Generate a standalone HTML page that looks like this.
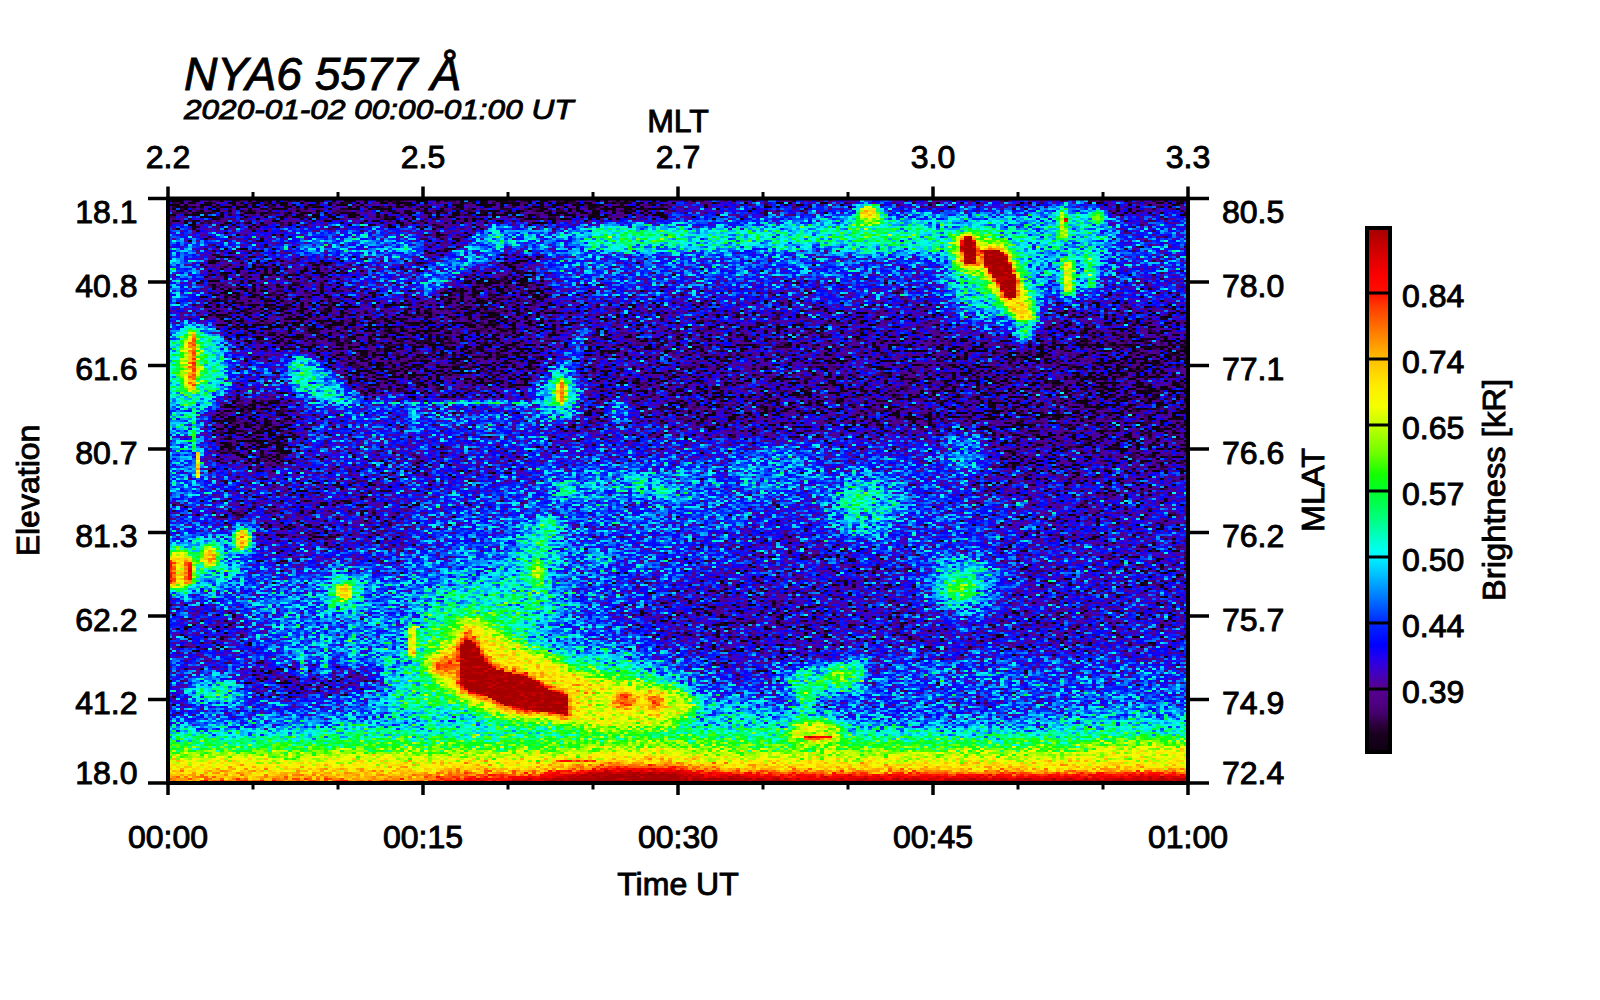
<!DOCTYPE html>
<html><head><meta charset="utf-8"><title>NYA6 5577 keogram</title>
<style>
html,body{margin:0;padding:0;background:#fff;}
body{width:1600px;height:1000px;overflow:hidden;font-family:"Liberation Sans",sans-serif;}
svg{display:block;}
text{font-family:"Liberation Sans",sans-serif;fill:#000;stroke:#000;stroke-width:0.9px;}
</style></head><body>
<svg width="1600" height="1000" viewBox="0 0 1600 1000">
<defs>
<filter id="b2" x="-50%" y="-50%" width="200%" height="200%" color-interpolation-filters="sRGB"><feGaussianBlur stdDeviation="2"/></filter>
<filter id="b4" x="-50%" y="-50%" width="200%" height="200%" color-interpolation-filters="sRGB"><feGaussianBlur stdDeviation="4"/></filter>
<filter id="b7" x="-50%" y="-50%" width="200%" height="200%" color-interpolation-filters="sRGB"><feGaussianBlur stdDeviation="7"/></filter>
<filter id="b12" x="-50%" y="-50%" width="200%" height="200%" color-interpolation-filters="sRGB"><feGaussianBlur stdDeviation="12"/></filter>
<filter id="b20" x="-50%" y="-50%" width="200%" height="200%" color-interpolation-filters="sRGB"><feGaussianBlur stdDeviation="20"/></filter>
<filter id="b35" x="-50%" y="-50%" width="200%" height="200%" color-interpolation-filters="sRGB"><feGaussianBlur stdDeviation="35"/></filter>
<filter id="bx" filterUnits="userSpaceOnUse" x="100" y="680" width="1200" height="150" color-interpolation-filters="sRGB"><feGaussianBlur stdDeviation="14 0"/></filter>
<filter id="heat" filterUnits="userSpaceOnUse" x="168" y="198" width="1020" height="585" color-interpolation-filters="sRGB">
 <feTurbulence type="fractalNoise" baseFrequency="0.83 0.91" numOctaves="2" seed="7" result="tn"/>
 <feColorMatrix in="tn" type="matrix" values="0.9 0 0 0 0  0.9 0 0 0 0  0.9 0 0 0 0  0 0 0 0 1" result="n"/>
 <feComposite in="SourceGraphic" in2="n" operator="arithmetic" k1="-0.8" k2="1.3600" k3="1" k4="-0.450" result="sum"/>
 <feFlood x="170" y="199" width="1" height="1" flood-color="#000"/>
 <feOffset dx="0" dy="0" x="168" y="198" width="4" height="2"/>
 <feTile result="grid"/>
 <feComposite in="sum" in2="grid" operator="in"/>
 <feConvolveMatrix order="4 2" kernelMatrix="1 1 1 1 1 1 1 1" divisor="1" targetX="1" targetY="0" edgeMode="none" preserveAlpha="false" result="pix"/>
 <feComponentTransfer>
  <feFuncR type="table" tableValues="0.055 0.077 0.098 0.152 0.217 0.276 0.311 0.321 0.329 0.284 0.238 0.172 0.094 0.005 0.000 0.000 0.000 0.000 0.000 0.000 0.000 0.000 0.000 0.000 0.000 0.000 0.000 0.000 0.000 0.000 0.000 0.000 0.000 0.041 0.089 0.227 0.365 0.481 0.575 0.670 0.765 0.852 0.940 0.972 0.988 1.000 1.000 1.000 1.000 1.000 1.000 1.000 1.000 1.000 1.000 1.000 1.000 0.991 0.982 0.940 0.886 0.831 0.770 0.708 0.647"/>
  <feFuncG type="table" tableValues="0.000 0.000 0.000 0.000 0.000 0.000 0.000 0.000 0.000 0.000 0.000 0.000 0.000 0.000 0.057 0.117 0.176 0.279 0.381 0.483 0.585 0.687 0.785 0.877 0.961 1.000 1.000 1.000 1.000 1.000 1.000 1.000 1.000 1.000 1.000 1.000 1.000 1.000 1.000 1.000 1.000 1.000 1.000 0.977 0.946 0.911 0.855 0.800 0.745 0.665 0.586 0.506 0.426 0.347 0.267 0.169 0.059 0.033 0.006 0.000 0.000 0.000 0.000 0.000 0.000"/>
  <feFuncB type="table" tableValues="0.063 0.092 0.120 0.204 0.325 0.442 0.512 0.544 0.573 0.683 0.792 0.885 0.954 0.998 1.000 1.000 1.000 1.000 1.000 1.000 1.000 1.000 1.000 1.000 0.980 0.906 0.794 0.675 0.553 0.444 0.342 0.248 0.157 0.075 0.000 0.000 0.000 0.000 0.000 0.000 0.000 0.000 0.000 0.000 0.000 0.000 0.000 0.000 0.000 0.000 0.000 0.000 0.000 0.000 0.000 0.000 0.000 0.000 0.000 0.000 0.000 0.000 0.000 0.000 0.000"/>
  <feFuncA type="linear" slope="0" intercept="1"/>
 </feComponentTransfer>
</filter>
<linearGradient id="bg1" x1="0" y1="690" x2="0" y2="820" gradientUnits="userSpaceOnUse">
<stop offset="0" stop-color="#444" stop-opacity="0"/>
<stop offset="0.0769" stop-color="#404040" stop-opacity="0.00"/>
<stop offset="0.1538" stop-color="#454545" stop-opacity="0.30"/>
<stop offset="0.2000" stop-color="#4c4c4c" stop-opacity="0.50"/>
<stop offset="0.2769" stop-color="#5c5c5c" stop-opacity="0.70"/>
<stop offset="0.3308" stop-color="#6b6b6b" stop-opacity="0.80"/>
<stop offset="0.4231" stop-color="#878787" stop-opacity="0.85"/>
<stop offset="0.4923" stop-color="#9e9e9e" stop-opacity="0.90"/>
<stop offset="0.5538" stop-color="#adadad" stop-opacity="0.95"/>
<stop offset="0.6077" stop-color="#bbbbbb" stop-opacity="1.00"/>
<stop offset="0.6346" stop-color="#c9c9c9" stop-opacity="1.00"/>
<stop offset="0.6577" stop-color="#e0e0e0" stop-opacity="1.00"/>
<stop offset="0.6846" stop-color="#f2f2f2" stop-opacity="1.00"/>
<stop offset="0.7077" stop-color="#ffffff" stop-opacity="1.00"/>
<stop offset="1.0000" stop-color="#ffffff" stop-opacity="1.00"/>
</linearGradient>
<linearGradient id="bg2" x1="0" y1="690" x2="0" y2="820" gradientUnits="userSpaceOnUse">
<stop offset="0" stop-color="#444" stop-opacity="0"/>
<stop offset="0.0769" stop-color="#404040" stop-opacity="0.00"/>
<stop offset="0.1538" stop-color="#454545" stop-opacity="0.30"/>
<stop offset="0.2000" stop-color="#4c4c4c" stop-opacity="0.50"/>
<stop offset="0.2769" stop-color="#5c5c5c" stop-opacity="0.70"/>
<stop offset="0.3308" stop-color="#6b6b6b" stop-opacity="0.80"/>
<stop offset="0.4231" stop-color="#878787" stop-opacity="0.85"/>
<stop offset="0.4923" stop-color="#9e9e9e" stop-opacity="0.90"/>
<stop offset="0.5538" stop-color="#adadad" stop-opacity="0.95"/>
<stop offset="0.6000" stop-color="#b2b2b2" stop-opacity="1.00"/>
<stop offset="0.6462" stop-color="#bbbbbb" stop-opacity="1.00"/>
<stop offset="0.6923" stop-color="#c9c9c9" stop-opacity="1.00"/>
<stop offset="0.7154" stop-color="#d4d4d4" stop-opacity="1.00"/>
<stop offset="1.0000" stop-color="#e0e0e0" stop-opacity="1.00"/>
</linearGradient>
<linearGradient id="bg3" x1="0" y1="690" x2="0" y2="820" gradientUnits="userSpaceOnUse">
<stop offset="0" stop-color="#444" stop-opacity="0"/>
<stop offset="0.0769" stop-color="#404040" stop-opacity="0.00"/>
<stop offset="0.1538" stop-color="#454545" stop-opacity="0.30"/>
<stop offset="0.2000" stop-color="#4c4c4c" stop-opacity="0.50"/>
<stop offset="0.2769" stop-color="#5c5c5c" stop-opacity="0.70"/>
<stop offset="0.3308" stop-color="#6b6b6b" stop-opacity="0.80"/>
<stop offset="0.4231" stop-color="#878787" stop-opacity="0.85"/>
<stop offset="0.4923" stop-color="#9e9e9e" stop-opacity="0.90"/>
<stop offset="0.5538" stop-color="#adadad" stop-opacity="0.95"/>
<stop offset="0.6000" stop-color="#b8b8b8" stop-opacity="1.00"/>
<stop offset="0.6385" stop-color="#c7c7c7" stop-opacity="1.00"/>
<stop offset="0.6769" stop-color="#dbdbdb" stop-opacity="1.00"/>
<stop offset="0.7077" stop-color="#ededed" stop-opacity="1.00"/>
<stop offset="1.0000" stop-color="#f2f2f2" stop-opacity="1.00"/>
</linearGradient>
<linearGradient id="cb" x1="0" y1="0" x2="0" y2="1"><stop offset="0.0000" stop-color="rgb(165,0,0)"/><stop offset="0.0500" stop-color="rgb(215,0,0)"/><stop offset="0.0900" stop-color="rgb(250,0,0)"/><stop offset="0.1250" stop-color="rgb(255,15,0)"/><stop offset="0.1500" stop-color="rgb(255,60,0)"/><stop offset="0.2000" stop-color="rgb(255,125,0)"/><stop offset="0.2500" stop-color="rgb(255,190,0)"/><stop offset="0.3000" stop-color="rgb(255,235,0)"/><stop offset="0.3400" stop-color="rgb(245,255,0)"/><stop offset="0.3750" stop-color="rgb(195,255,0)"/><stop offset="0.4300" stop-color="rgb(110,255,0)"/><stop offset="0.4700" stop-color="rgb(20,255,0)"/><stop offset="0.5000" stop-color="rgb(0,255,40)"/><stop offset="0.5270" stop-color="rgb(0,255,80)"/><stop offset="0.5570" stop-color="rgb(0,255,130)"/><stop offset="0.5870" stop-color="rgb(0,255,190)"/><stop offset="0.6170" stop-color="rgb(0,255,245)"/><stop offset="0.6330" stop-color="rgb(0,235,255)"/><stop offset="0.6630" stop-color="rgb(0,190,255)"/><stop offset="0.6930" stop-color="rgb(0,140,255)"/><stop offset="0.7230" stop-color="rgb(0,90,255)"/><stop offset="0.7500" stop-color="rgb(0,45,255)"/><stop offset="0.7960" stop-color="rgb(0,0,255)"/><stop offset="0.8200" stop-color="rgb(35,0,238)"/><stop offset="0.8450" stop-color="rgb(62,0,200)"/><stop offset="0.8750" stop-color="rgb(84,0,146)"/><stop offset="0.9050" stop-color="rgb(80,0,132)"/><stop offset="0.9260" stop-color="rgb(68,0,108)"/><stop offset="0.9480" stop-color="rgb(44,0,60)"/><stop offset="0.9660" stop-color="rgb(26,0,32)"/><stop offset="1.0000" stop-color="rgb(14,0,16)"/></linearGradient>
<clipPath id="pc"><rect x="168" y="198" width="1020" height="585"/></clipPath>
</defs>
<rect width="1600" height="1000" fill="#fff"/>
<g clip-path="url(#pc)">
<g filter="url(#heat)">
<rect x="150" y="180" width="1060" height="620" fill="#333333"/>
<g filter="url(#b35)"><ellipse cx="480" cy="625" rx="330" ry="95" fill="#444444"/></g>
<g filter="url(#b20)"><ellipse cx="370" cy="620" rx="110" ry="50" fill="#4a4a4a"/></g>
<g filter="url(#b35)"><ellipse cx="620" cy="515" rx="150" ry="65" fill="#414141"/></g>
<g filter="url(#b35)"><ellipse cx="800" cy="490" rx="130" ry="55" fill="#424242"/></g>
<g filter="url(#b35)"><ellipse cx="950" cy="540" rx="90" ry="80" fill="#3c3c3c"/></g>
<g filter="url(#b20)"><ellipse cx="470" cy="590" rx="90" ry="50" fill="#474747"/></g>
<g filter="url(#b20)"><ellipse cx="340" cy="640" rx="70" ry="40" fill="#4a4a4a"/></g>
<rect x="150" y="176" width="520" height="46" fill="#0a0a0a" filter="url(#b7)"/>
<rect x="660" y="176" width="450" height="34" fill="#262626" filter="url(#b7)"/>
<rect x="370" y="180" width="280" height="44" fill="#0b0b0b" filter="url(#b7)"/>
<rect x="1100" y="185" width="110" height="30" fill="#171717" filter="url(#b7)"/>
<rect x="185" y="205" width="300" height="135" fill="#1b1b1b" filter="url(#b20)"/>
<polygon points="205,280 330,292 440,290 545,272 550,395 352,400 322,352 205,338" fill="#161616" filter="url(#b12)"/>
<polygon points="250,305 520,295 535,385 370,385 340,345 250,328" fill="#131313" filter="url(#b12)" opacity="0.8"/>
<rect x="505" y="256" width="48" height="70" fill="#171717" filter="url(#b7)"/>
<rect x="540" y="310" width="670" height="125" fill="#1d1d1d" filter="url(#b20)"/>
<rect x="1085" y="330" width="130" height="150" fill="#0f0f0f" filter="url(#b20)"/>
<rect x="930" y="345" width="150" height="45" fill="#171717" filter="url(#b12)"/>
<rect x="990" y="395" width="210" height="95" fill="#161616" filter="url(#b20)"/>
<rect x="690" y="392" width="160" height="35" fill="#1a1a1a" filter="url(#b12)"/>
<rect x="848" y="392" width="150" height="30" fill="#1c1c1c" filter="url(#b12)"/>
<polygon points="210,396 292,396 300,440 290,470 210,462" fill="#0f0f0f" filter="url(#b7)"/>
<rect x="230" y="478" width="180" height="80" fill="#252525" filter="url(#b20)"/>
<rect x="380" y="410" width="150" height="50" fill="#262626" filter="url(#b20)"/>
<polygon points="236,668 300,664 388,672 388,692 300,694 236,690" fill="#202020" filter="url(#b7)"/>
<polygon points="176,605 230,600 262,640 240,668 178,660" fill="#2b2b2b" filter="url(#b12)"/>
<rect x="160" y="705" width="62" height="38" fill="#2e2e2e" filter="url(#b12)"/>
<rect x="625" y="590" width="225" height="70" fill="#282828" filter="url(#b20)"/>
<rect x="690" y="560" width="230" height="90" fill="#262626" filter="url(#b20)"/>
<rect x="705" y="596" width="130" height="46" fill="#242424" filter="url(#b12)"/>
<rect x="745" y="525" width="105" height="70" fill="#2b2b2b" filter="url(#b20)"/>
<rect x="848" y="655" width="345" height="65" fill="#3c3c3c" filter="url(#b20)"/>
<rect x="848" y="618" width="360" height="32" fill="#2a2a2a" filter="url(#b12)"/>
<rect x="1020" y="585" width="180" height="60" fill="#282828" filter="url(#b20)"/>
<rect x="1030" y="498" width="175" height="95" fill="#252525" filter="url(#b20)"/>
<rect x="1010" y="470" width="200" height="200" fill="#2a2a2a" filter="url(#b35)"/>
<rect x="848" y="662" width="345" height="50" fill="#404040" filter="url(#b12)"/>
<polygon points="335,402 560,402 545,452 380,442" fill="#393939" filter="url(#b7)"/>
<g filter="url(#b12)"><ellipse cx="382" cy="282" rx="42" ry="22" fill="#363636"/></g>
<polygon points="290,230 330,228 425,230 425,262 330,258 290,254" fill="#4a4a4a" filter="url(#b7)"/>
<rect x="200" y="232" width="100" height="22" fill="#333333" filter="url(#b7)"/>
<polygon points="560,226 600,224 700,226 800,224 860,214 1100,212 1110,262 1000,270 860,262 800,256 700,258 600,258 560,256" fill="#595959" filter="url(#b7)"/>
<polygon points="412,284 428,298 470,270 507,250 516,230 498,223 456,250" fill="#4c4c4c" filter="url(#b4)"/>
<g filter="url(#b4)"><ellipse cx="502" cy="238" rx="10" ry="10" fill="#707070"/></g>
<rect x="505" y="228" width="62" height="26" fill="#4a4a4a" filter="url(#b4)"/>
<polygon points="590,230 690,230 690,254 590,256" fill="#7a7a7a" filter="url(#b7)"/>
<polygon points="700,234 860,226 1000,230 1000,256 860,256 700,254" fill="#6e6e6e" filter="url(#b7)"/>
<rect x="560" y="256" width="560" height="34" fill="#383838" filter="url(#b12)"/>
<rect x="540" y="255" width="320" height="24" fill="#404040" filter="url(#b7)"/>
<rect x="1105" y="224" width="95" height="46" fill="#3e3e3e" filter="url(#b7)"/>
<g filter="url(#b12)"><ellipse cx="995" cy="275" rx="50" ry="48" fill="#666666"/></g>
<g filter="url(#b12)"><ellipse cx="1075" cy="250" rx="30" ry="46" fill="#616161"/></g>
<rect x="160" y="253" width="20" height="36" fill="#757575" filter="url(#b4)"/>
<rect x="160" y="235" width="40" height="70" fill="#474747" filter="url(#b7)"/>
<rect x="160" y="330" width="46" height="170" fill="#4c4c4c" filter="url(#b7)"/>
<g filter="url(#b7)"><ellipse cx="195" cy="368" rx="34" ry="44" fill="#6b6b6b"/></g>
<polygon points="291,354 300,354 330,375 364,403 330,406 292,392" fill="#5e5e5e" filter="url(#b4)"/>
<g filter="url(#b4)"><ellipse cx="299" cy="372" rx="7" ry="12" fill="#757575"/></g>
<rect x="344" y="402" width="216" height="3" fill="#575757"/>
<rect x="450" y="401.5" width="110" height="3.5" fill="#666666"/>
<rect x="408" y="404" width="9" height="22" fill="#575757" filter="url(#b2)"/>
<polygon points="556,378 570,378 592,328 582,324" fill="#4c4c4c" filter="url(#b4)"/>
<g filter="url(#b7)"><ellipse cx="560" cy="395" rx="22" ry="26" fill="#666666"/></g>
<g filter="url(#b12)"><ellipse cx="198" cy="565" rx="50" ry="28" fill="#616161"/></g>
<g filter="url(#b7)"><ellipse cx="345" cy="594" rx="20" ry="20" fill="#737373"/></g>
<g filter="url(#b7)"><ellipse cx="217" cy="693" rx="26" ry="16" fill="#6b6b6b"/></g>
<polygon points="550,474 640,470 700,476 700,502 640,500 550,504" fill="#4f4f4f" filter="url(#b7)"/>
<g filter="url(#b4)"><ellipse cx="640" cy="484" rx="10" ry="8" fill="#707070"/></g>
<g filter="url(#b4)"><ellipse cx="567" cy="491" rx="10" ry="8" fill="#6b6b6b"/></g>
<g filter="url(#b4)"><ellipse cx="663" cy="491" rx="10" ry="8" fill="#6b6b6b"/></g>
<g filter="url(#b4)"><ellipse cx="599" cy="560" rx="12" ry="10" fill="#5c5c5c"/></g>
<g filter="url(#b7)"><ellipse cx="762" cy="474" rx="26" ry="14" fill="#575757"/></g>
<g filter="url(#b12)"><ellipse cx="785" cy="467" rx="45" ry="16" fill="#4a4a4a"/></g>
<g filter="url(#b12)"><ellipse cx="490" cy="606" rx="72" ry="28" fill="#666666"/></g>
<rect x="322" y="640" width="7" height="38" fill="#666666" filter="url(#b2)"/>
<rect x="350" y="628" width="6" height="40" fill="#666666" filter="url(#b2)"/>
<rect x="384" y="638" width="7" height="44" fill="#666666" filter="url(#b2)"/>
<rect x="300" y="650" width="6" height="30" fill="#666666" filter="url(#b2)"/>
<polygon points="543,518 558,520 544,590 524,628 506,624 526,585" fill="#858585" filter="url(#b4)"/>
<g filter="url(#b12)"><ellipse cx="534" cy="572" rx="24" ry="52" fill="#666666" transform="rotate(12 534 572)"/></g>
<g filter="url(#b2)"><ellipse cx="538" cy="574" rx="6" ry="15" fill="#9e9e9e"/></g>
<g filter="url(#b12)"><ellipse cx="512" cy="600" rx="22" ry="22" fill="#6b6b6b"/></g>
<g filter="url(#b12)"><ellipse cx="866" cy="508" rx="36" ry="30" fill="#616161"/></g>
<g filter="url(#b4)"><ellipse cx="856" cy="500" rx="14" ry="12" fill="#707070"/></g>
<g filter="url(#b4)"><ellipse cx="619" cy="414" rx="12" ry="13" fill="#4c4c4c"/></g>
<g filter="url(#b7)"><ellipse cx="965" cy="453" rx="22" ry="20" fill="#4f4f4f"/></g>
<g filter="url(#b12)"><ellipse cx="963" cy="585" rx="34" ry="28" fill="#666666"/></g>
<g filter="url(#b4)"><ellipse cx="960" cy="588" rx="14" ry="10" fill="#8a8a8a"/></g>
<rect x="797" y="672" width="17" height="62" fill="#8a8a8a" filter="url(#b4)"/>
<g filter="url(#b7)"><ellipse cx="822" cy="682" rx="38" ry="15" fill="#707070"/></g>
<g filter="url(#b4)"><ellipse cx="845" cy="675" rx="16" ry="10" fill="#999999"/></g>
<g filter="url(#b4)"><ellipse cx="856" cy="674" rx="10" ry="16" fill="#6b6b6b"/></g>
<g filter="url(#b12)"><ellipse cx="1135" cy="736" rx="85" ry="24" fill="#757575"/></g>
<g filter="url(#b12)"><ellipse cx="770" cy="742" rx="130" ry="30" fill="#707070"/></g>
<g filter="url(#b20)"><ellipse cx="560" cy="748" rx="260" ry="40" fill="#7a7a7a"/></g>
<g filter="url(#b12)"><ellipse cx="1000" cy="762" rx="200" ry="22" fill="#808080"/></g>
<g filter="url(#b20)"><ellipse cx="535" cy="700" rx="150" ry="45" fill="#808080"/></g>
<g filter="url(#b12)"><ellipse cx="470" cy="650" rx="60" ry="40" fill="#7a7a7a"/></g>
<polygon points="952,236 982,234 1008,244 1026,286 1040,318 1026,328 1004,308 990,290 978,276 956,270" fill="#a3a3a3" filter="url(#b4)"/>
<g filter="url(#b4)"><ellipse cx="1024" cy="330" rx="9" ry="14" fill="#737373"/></g>
<polygon points="963,238 972,236 978,250 978,264 966,264 962,250" fill="#d1d1d1" stroke="#d1d1d1" stroke-width="5" stroke-linejoin="round" filter="url(#b2)"/>
<polygon points="982.3,251 994.6,250 1001,250.7 1008.4,257.5 1012.7,270 1018,283 1018,298 1011.6,300 1005,297 1001,287 994.6,279 988,270 984,262" fill="#d1d1d1" stroke="#d1d1d1" stroke-width="5" stroke-linejoin="round" filter="url(#b2)"/>
<polygon points="1000,292 1020,296 1034,318 1022,322 1008,308" fill="#b8b8b8" filter="url(#b2)"/>
<polygon points="963,238 972,236 978,250 978,264 966,264 962,250" fill="#ffffff"/>
<polygon points="982.3,251 994.6,250 1001,250.7 1008.4,257.5 1012.7,270 1018,283 1018,298 1011.6,300 1005,297 1001,287 994.6,279 988,270 984,262" fill="#ffffff"/>
<rect x="1060" y="210" width="7" height="28" fill="#adadad" filter="url(#b2)"/>
<rect x="1063" y="218" width="4" height="4" fill="#e6e6e6"/>
<g filter="url(#b2)"><ellipse cx="1099" cy="217" rx="7" ry="6" fill="#999999"/></g>
<rect x="1063" y="261" width="11" height="34" fill="#adadad" filter="url(#b2)"/>
<rect x="1088" y="257" width="7" height="31" fill="#858585" filter="url(#b2)"/>
<g filter="url(#b4)"><ellipse cx="870" cy="219" rx="12" ry="14" fill="#d1d1d1"/></g>
<g filter="url(#b7)"><ellipse cx="872" cy="235" rx="24" ry="16" fill="#757575"/></g>
<g filter="url(#b4)"><ellipse cx="191" cy="364" rx="10" ry="30" fill="#adadad"/></g>
<rect x="191.5" y="332" width="4" height="58" fill="#f2f2f2" filter="url(#b2)"/>
<rect x="196" y="453" width="3.5" height="26" fill="#b8b8b8"/>
<rect x="192" y="398" width="3" height="55" fill="#737373"/>
<g filter="url(#b4)"><ellipse cx="180" cy="570" rx="15" ry="22" fill="#b2b2b2"/></g>
<rect x="166" y="560" width="9" height="26" fill="#e6e6e6" filter="url(#b2)"/>
<rect x="186.5" y="560" width="6" height="24" fill="#f7f7f7" filter="url(#b2)"/>
<g filter="url(#b4)"><ellipse cx="210" cy="557" rx="12" ry="15" fill="#808080"/></g>
<g filter="url(#b2)"><ellipse cx="210" cy="557" rx="7" ry="10" fill="#c2c2c2"/></g>
<g filter="url(#b4)"><ellipse cx="243" cy="540" rx="11" ry="15" fill="#808080"/></g>
<g filter="url(#b2)"><ellipse cx="243" cy="540" rx="6" ry="10" fill="#c4c4c4"/></g>
<g filter="url(#b2)"><ellipse cx="345" cy="592" rx="8" ry="9" fill="#bdbdbd"/></g>
<g filter="url(#b2)"><ellipse cx="562" cy="392" rx="5" ry="14" fill="#d1d1d1"/></g>
<g filter="url(#bx)">
<rect x="100" y="690" width="340" height="130" fill="url(#bg2)" transform="translate(0,0)"/>
<rect x="440" y="690" width="70" height="130" fill="url(#bg3)" transform="translate(0,0)"/>
<rect x="510" y="690" width="40" height="130" fill="url(#bg1)" transform="translate(0,1)"/>
<rect x="550" y="690" width="40" height="130" fill="url(#bg1)" transform="translate(0,-3)"/>
<rect x="590" y="690" width="100" height="130" fill="url(#bg1)" transform="translate(0,-7)"/>
<rect x="690" y="690" width="70" height="130" fill="url(#bg1)" transform="translate(0,-2)"/>
<rect x="760" y="690" width="360" height="130" fill="url(#bg1)" transform="translate(0,0)"/>
<rect x="1120" y="690" width="140" height="130" fill="url(#bg1)" transform="translate(0,-1)"/>
</g>
<g filter="url(#b7)"><ellipse cx="1150" cy="753" rx="70" ry="9" fill="#ababab"/></g>
<rect x="557" y="761" width="40" height="2" fill="#d9d9d9"/>
<g filter="url(#b4)"><ellipse cx="816" cy="734" rx="28" ry="14" fill="#a3a3a3"/></g>
<rect x="805" y="737" width="26" height="2.5" fill="#ebebeb"/>
<polygon points="422,668 430,654 450,640 461,618 479,618 506,640 550,657 592,676 635,683 684,694 694,708 680,720 635,730 592,730 550,725 507,720 474,708 442,684" fill="#b2b2b2" filter="url(#b7)"/>
<g filter="url(#b4)"><ellipse cx="447" cy="666" rx="13" ry="9" fill="#dbdbdb"/></g>
<rect x="465" y="630" width="8" height="14" fill="#d6d6d6" filter="url(#b2)"/>
<polygon points="459,650 465,641 472,640 478,648 486,662 499,670.5 528.7,677 550,690 567,696 567,715.5 550,712.5 528.7,711 503,705 486,696.5 469,692 460,683.5" fill="#d6d6d6" stroke="#d6d6d6" stroke-width="8" stroke-linejoin="round" filter="url(#b2)"/>
<polygon points="459,650 465,641 472,640 478,648 486,662 499,670.5 528.7,677 550,690 567,696 567,715.5 550,712.5 528.7,711 503,705 486,696.5 469,692 460,683.5" fill="#ffffff"/>
<rect x="409" y="626" width="8" height="32" fill="#bdbdbd" filter="url(#b2)"/>
<g filter="url(#b7)"><ellipse cx="640" cy="707" rx="58" ry="18" fill="#a3a3a3"/></g>
<g filter="url(#b4)"><ellipse cx="626" cy="701" rx="12" ry="9" fill="#dbdbdb"/></g>
<g filter="url(#b4)"><ellipse cx="655" cy="703" rx="11" ry="10" fill="#d4d4d4"/></g>
</g>
</g>
<rect x="168" y="198.5" width="1020" height="584.5" fill="none" stroke="#000" stroke-width="4"/>
<line x1="168.0" y1="198.5" x2="168.0" y2="186.5" stroke="#000" stroke-width="3.5"/>
<line x1="168.0" y1="783.0" x2="168.0" y2="795.0" stroke="#000" stroke-width="3.5"/>
<line x1="253.0" y1="198.5" x2="253.0" y2="192.0" stroke="#000" stroke-width="3.0"/>
<line x1="253.0" y1="783.0" x2="253.0" y2="789.5" stroke="#000" stroke-width="3.0"/>
<line x1="338.0" y1="198.5" x2="338.0" y2="192.0" stroke="#000" stroke-width="3.0"/>
<line x1="338.0" y1="783.0" x2="338.0" y2="789.5" stroke="#000" stroke-width="3.0"/>
<line x1="423.0" y1="198.5" x2="423.0" y2="186.5" stroke="#000" stroke-width="3.5"/>
<line x1="423.0" y1="783.0" x2="423.0" y2="795.0" stroke="#000" stroke-width="3.5"/>
<line x1="508.0" y1="198.5" x2="508.0" y2="192.0" stroke="#000" stroke-width="3.0"/>
<line x1="508.0" y1="783.0" x2="508.0" y2="789.5" stroke="#000" stroke-width="3.0"/>
<line x1="593.0" y1="198.5" x2="593.0" y2="192.0" stroke="#000" stroke-width="3.0"/>
<line x1="593.0" y1="783.0" x2="593.0" y2="789.5" stroke="#000" stroke-width="3.0"/>
<line x1="678.0" y1="198.5" x2="678.0" y2="186.5" stroke="#000" stroke-width="3.5"/>
<line x1="678.0" y1="783.0" x2="678.0" y2="795.0" stroke="#000" stroke-width="3.5"/>
<line x1="763.0" y1="198.5" x2="763.0" y2="192.0" stroke="#000" stroke-width="3.0"/>
<line x1="763.0" y1="783.0" x2="763.0" y2="789.5" stroke="#000" stroke-width="3.0"/>
<line x1="848.0" y1="198.5" x2="848.0" y2="192.0" stroke="#000" stroke-width="3.0"/>
<line x1="848.0" y1="783.0" x2="848.0" y2="789.5" stroke="#000" stroke-width="3.0"/>
<line x1="933.0" y1="198.5" x2="933.0" y2="186.5" stroke="#000" stroke-width="3.5"/>
<line x1="933.0" y1="783.0" x2="933.0" y2="795.0" stroke="#000" stroke-width="3.5"/>
<line x1="1018.0" y1="198.5" x2="1018.0" y2="192.0" stroke="#000" stroke-width="3.0"/>
<line x1="1018.0" y1="783.0" x2="1018.0" y2="789.5" stroke="#000" stroke-width="3.0"/>
<line x1="1103.0" y1="198.5" x2="1103.0" y2="192.0" stroke="#000" stroke-width="3.0"/>
<line x1="1103.0" y1="783.0" x2="1103.0" y2="789.5" stroke="#000" stroke-width="3.0"/>
<line x1="1188.0" y1="198.5" x2="1188.0" y2="186.5" stroke="#000" stroke-width="3.5"/>
<line x1="1188.0" y1="783.0" x2="1188.0" y2="795.0" stroke="#000" stroke-width="3.5"/>
<line x1="168.0" y1="198.5" x2="148.0" y2="198.5" stroke="#000" stroke-width="3.5"/>
<line x1="1188.0" y1="198.5" x2="1209.0" y2="198.5" stroke="#000" stroke-width="3.5"/>
<line x1="168.0" y1="282.0" x2="148.0" y2="282.0" stroke="#000" stroke-width="3.5"/>
<line x1="1188.0" y1="282.0" x2="1209.0" y2="282.0" stroke="#000" stroke-width="3.5"/>
<line x1="168.0" y1="365.5" x2="148.0" y2="365.5" stroke="#000" stroke-width="3.5"/>
<line x1="1188.0" y1="365.5" x2="1209.0" y2="365.5" stroke="#000" stroke-width="3.5"/>
<line x1="168.0" y1="449.0" x2="148.0" y2="449.0" stroke="#000" stroke-width="3.5"/>
<line x1="1188.0" y1="449.0" x2="1209.0" y2="449.0" stroke="#000" stroke-width="3.5"/>
<line x1="168.0" y1="532.5" x2="148.0" y2="532.5" stroke="#000" stroke-width="3.5"/>
<line x1="1188.0" y1="532.5" x2="1209.0" y2="532.5" stroke="#000" stroke-width="3.5"/>
<line x1="168.0" y1="616.0" x2="148.0" y2="616.0" stroke="#000" stroke-width="3.5"/>
<line x1="1188.0" y1="616.0" x2="1209.0" y2="616.0" stroke="#000" stroke-width="3.5"/>
<line x1="168.0" y1="699.5" x2="148.0" y2="699.5" stroke="#000" stroke-width="3.5"/>
<line x1="1188.0" y1="699.5" x2="1209.0" y2="699.5" stroke="#000" stroke-width="3.5"/>
<line x1="168.0" y1="783.0" x2="148.0" y2="783.0" stroke="#000" stroke-width="3.5"/>
<line x1="1188.0" y1="783.0" x2="1209.0" y2="783.0" stroke="#000" stroke-width="3.5"/>
<rect x="1367" y="228" width="23" height="524" fill="url(#cb)" stroke="#000" stroke-width="4"/>
<line x1="1366" y1="293" x2="1391" y2="293" stroke="#000" stroke-width="3"/>
<line x1="1366" y1="359" x2="1391" y2="359" stroke="#000" stroke-width="3"/>
<line x1="1366" y1="425" x2="1391" y2="425" stroke="#000" stroke-width="3"/>
<line x1="1366" y1="491" x2="1391" y2="491" stroke="#000" stroke-width="3"/>
<line x1="1366" y1="557" x2="1391" y2="557" stroke="#000" stroke-width="3"/>
<line x1="1366" y1="623" x2="1391" y2="623" stroke="#000" stroke-width="3"/>
<line x1="1366" y1="689" x2="1391" y2="689" stroke="#000" stroke-width="3"/>
<text transform="translate(184.0,90.0) scale(1.05,1)" font-size="46.5" text-anchor="start" font-style="italic" textLength="264" lengthAdjust="spacingAndGlyphs">NYA6 5577 Å</text>
<text transform="translate(184.0,119.0) scale(1.05,1)" font-size="28.5" text-anchor="start" font-style="italic" textLength="371" lengthAdjust="spacingAndGlyphs">2020-01-02 00:00-01:00 UT</text>
<text transform="translate(678.0,131.5) scale(1.05,1)" font-size="30.5" text-anchor="middle"  >MLT</text>
<text transform="translate(168.0,168.0) scale(1.05,1)" font-size="30.5" text-anchor="middle"  >2.2</text>
<text transform="translate(423.0,168.0) scale(1.05,1)" font-size="30.5" text-anchor="middle"  >2.5</text>
<text transform="translate(678.0,168.0) scale(1.05,1)" font-size="30.5" text-anchor="middle"  >2.7</text>
<text transform="translate(933.0,168.0) scale(1.05,1)" font-size="30.5" text-anchor="middle"  >3.0</text>
<text transform="translate(1188.0,168.0) scale(1.05,1)" font-size="30.5" text-anchor="middle"  >3.3</text>
<text transform="translate(168.0,848.0) scale(1.05,1)" font-size="30.5" text-anchor="middle"  >00:00</text>
<text transform="translate(423.0,848.0) scale(1.05,1)" font-size="30.5" text-anchor="middle"  >00:15</text>
<text transform="translate(678.0,848.0) scale(1.05,1)" font-size="30.5" text-anchor="middle"  >00:30</text>
<text transform="translate(933.0,848.0) scale(1.05,1)" font-size="30.5" text-anchor="middle"  >00:45</text>
<text transform="translate(1188.0,848.0) scale(1.05,1)" font-size="30.5" text-anchor="middle"  >01:00</text>
<text transform="translate(678.0,895.0) scale(1.05,1)" font-size="30.5" text-anchor="middle"  >Time UT</text>
<text transform="translate(137.5,223.0) scale(1.05,1)" font-size="30.5" text-anchor="end"  >18.1</text>
<text transform="translate(137.5,296.7) scale(1.05,1)" font-size="30.5" text-anchor="end"  >40.8</text>
<text transform="translate(137.5,379.7) scale(1.05,1)" font-size="30.5" text-anchor="end"  >61.6</text>
<text transform="translate(137.5,463.7) scale(1.05,1)" font-size="30.5" text-anchor="end"  >80.7</text>
<text transform="translate(137.5,546.7) scale(1.05,1)" font-size="30.5" text-anchor="end"  >81.3</text>
<text transform="translate(137.5,630.7) scale(1.05,1)" font-size="30.5" text-anchor="end"  >62.2</text>
<text transform="translate(137.5,713.7) scale(1.05,1)" font-size="30.5" text-anchor="end"  >41.2</text>
<text transform="translate(137.5,783.5) scale(1.05,1)" font-size="30.5" text-anchor="end"  >18.0</text>
<text transform="translate(1222.0,223.0) scale(1.05,1)" font-size="30.5" text-anchor="start"  >80.5</text>
<text transform="translate(1222.0,296.7) scale(1.05,1)" font-size="30.5" text-anchor="start"  >78.0</text>
<text transform="translate(1222.0,379.7) scale(1.05,1)" font-size="30.5" text-anchor="start"  >77.1</text>
<text transform="translate(1222.0,463.7) scale(1.05,1)" font-size="30.5" text-anchor="start"  >76.6</text>
<text transform="translate(1222.0,546.7) scale(1.05,1)" font-size="30.5" text-anchor="start"  >76.2</text>
<text transform="translate(1222.0,630.7) scale(1.05,1)" font-size="30.5" text-anchor="start"  >75.7</text>
<text transform="translate(1222.0,713.7) scale(1.05,1)" font-size="30.5" text-anchor="start"  >74.9</text>
<text transform="translate(1222.0,783.5) scale(1.05,1)" font-size="30.5" text-anchor="start"  >72.4</text>
<text transform="translate(38.5,490.5) rotate(-90) scale(1.05,1)" font-size="30.5" text-anchor="middle">Elevation</text>
<text transform="translate(1323.5,490) rotate(-90) scale(1.06,1)" font-size="30.5" text-anchor="middle">MLAT</text>
<text transform="translate(1504.5,490) rotate(-90) scale(1.075,1)" font-size="30.5" text-anchor="middle">Brightness [kR]</text>
<text transform="translate(1402.0,307.0) scale(1.05,1)" font-size="30.5" text-anchor="start"  >0.84</text>
<text transform="translate(1402.0,373.0) scale(1.05,1)" font-size="30.5" text-anchor="start"  >0.74</text>
<text transform="translate(1402.0,439.0) scale(1.05,1)" font-size="30.5" text-anchor="start"  >0.65</text>
<text transform="translate(1402.0,505.0) scale(1.05,1)" font-size="30.5" text-anchor="start"  >0.57</text>
<text transform="translate(1402.0,571.0) scale(1.05,1)" font-size="30.5" text-anchor="start"  >0.50</text>
<text transform="translate(1402.0,637.0) scale(1.05,1)" font-size="30.5" text-anchor="start"  >0.44</text>
<text transform="translate(1402.0,703.0) scale(1.05,1)" font-size="30.5" text-anchor="start"  >0.39</text>
</svg>
</body></html>
